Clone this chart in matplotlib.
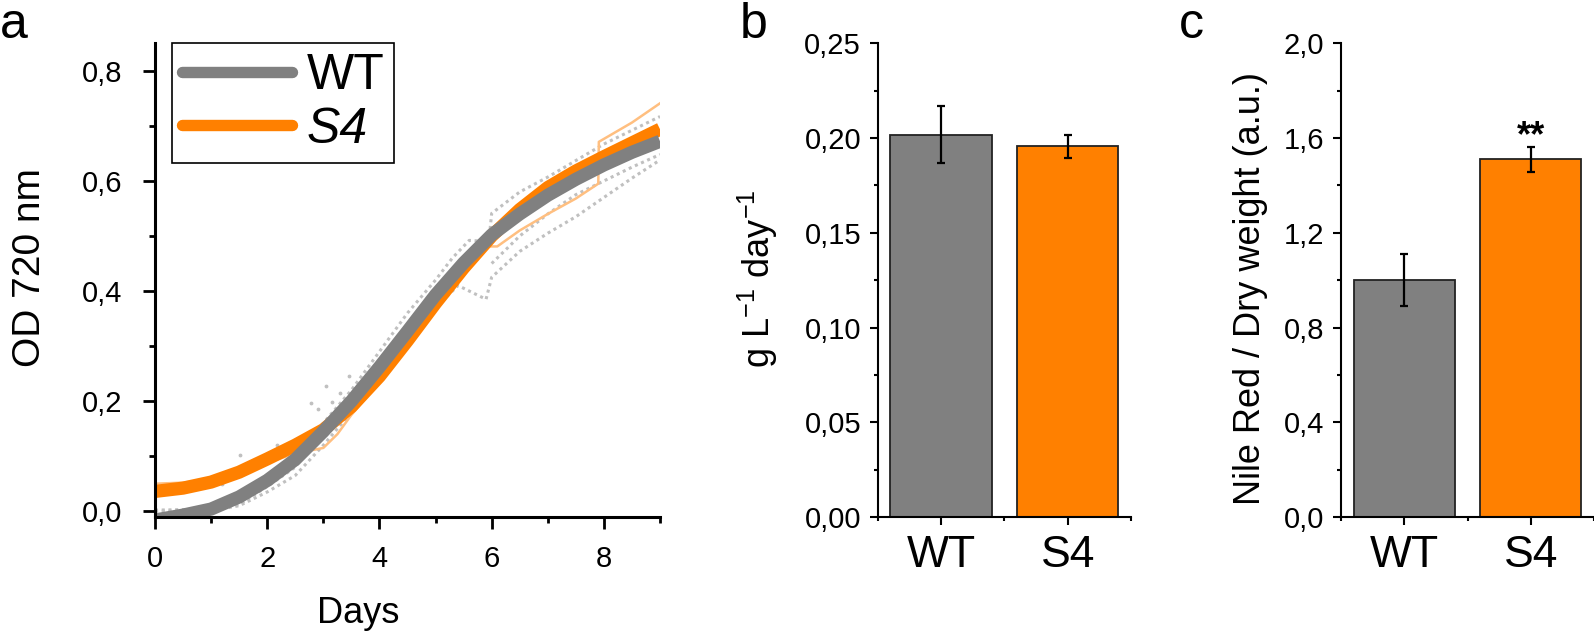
import matplotlib
matplotlib.use("Agg")
import matplotlib.pyplot as plt
from matplotlib.lines import Line2D
from matplotlib.ticker import FuncFormatter, MultipleLocator, FixedLocator

plt.rcParams['font.family'] = ['Liberation Sans', 'DejaVu Sans']
plt.rcParams['mathtext.fontset'] = 'custom'
plt.rcParams['mathtext.rm'] = 'Liberation Sans'
plt.rcParams['mathtext.it'] = 'Liberation Sans:italic'

GRAY = '#808080'
ORANGE = '#ff8000'
RAW_GRAY = '#c0c0c0'
LIGHT_ORANGE = '#ffbf80'

# --- panel a: growth curves ---
fit_days = [0, 0.5, 1, 1.5, 2, 2.5, 3, 3.5, 4, 4.5, 5, 5.5, 6, 6.5, 7, 7.5, 8, 8.5, 9]
wt_fit = [-0.016, -0.007, 0.004, 0.026, 0.056, 0.094, 0.145, 0.200, 0.262, 0.327,
          0.393, 0.451, 0.502, 0.540, 0.574, 0.603, 0.629, 0.652, 0.672]
s4_fit = [0.036, 0.042, 0.053, 0.071, 0.095, 0.120, 0.148, 0.190, 0.245, 0.310,
          0.378, 0.442, 0.500, 0.548, 0.588, 0.618, 0.644, 0.669, 0.694]

raw_u_days = [0, 0.5, 1, 1.5, 2, 2.5, 2.75, 3, 3.5, 4, 4.5, 5, 5.3, 5.6, 5.95, 6.0, 6.5, 7, 7.5, 8, 8.5, 9]
raw_u_od = [0.002, 0.003, 0.005, 0.012, 0.045, 0.080, 0.115, 0.160, 0.220, 0.290, 0.360, 0.420,
            0.460, 0.492, 0.490, 0.541, 0.580, 0.607, 0.637, 0.667, 0.692, 0.717]
raw_l_days = [0, 1, 1.5, 2, 2.5, 3, 3.5, 4, 4.5, 5, 5.4, 5.6, 5.9, 6.0, 6.5, 7, 7.5, 8, 8.5, 9]
raw_l_od = [0.000, 0.001, 0.010, 0.035, 0.065, 0.120, 0.180, 0.240, 0.310, 0.370, 0.410,
            0.400, 0.385, 0.425, 0.472, 0.505, 0.535, 0.570, 0.605, 0.638]
raw_m_days = [6.0, 6.5, 7, 7.5, 8, 8.5, 9]
raw_m_od = [0.450, 0.500, 0.540, 0.575, 0.600, 0.625, 0.648]
raw_s4_days = [0, 0.5, 1, 1.5, 2, 2.5, 3, 3.25, 3.5, 4, 4.5, 4.75, 5, 5.5, 5.8, 6.1, 6.5, 7, 7.5, 7.9, 7.91, 8.5, 9]
raw_s4_od = [0.050, 0.052, 0.058, 0.070, 0.088, 0.105, 0.115, 0.140, 0.175, 0.235, 0.310, 0.360,
             0.385, 0.450, 0.481, 0.481, 0.510, 0.540, 0.568, 0.595, 0.671, 0.706, 0.741]
stray_days = [1.51, 2.18, 2.78, 3.04, 3.16, 3.45, 0.85, 1.2, 2.9, 3.3]
stray_od = [0.102, 0.120, 0.197, 0.227, 0.199, 0.246, 0.045, 0.050, 0.185, 0.215]

# --- panels b and c: bar data ---
strains = ['WT', 'S4']
productivity = [0.2017, 0.1956]
productivity_err = [0.0150, 0.0060]
nile_red = [1.00, 1.511]
nile_red_err = [0.110, 0.053]
bar_colors = [GRAY, ORANGE]

fig = plt.figure(figsize=(15.94, 6.32), dpi=100)
W, H = 1594, 632


def axes_px(left, right, top, bottom):
    return fig.add_axes([left / W, 1 - bottom / H, (right - left) / W, (bottom - top) / H])


comma1 = FuncFormatter(lambda v, p: f'{v:.1f}'.replace('.', ','))
comma2 = FuncFormatter(lambda v, p: f'{v:.2f}'.replace('.', ','))

# ---------------- panel a ----------------
ax = axes_px(155, 660, 43.3, 517.3)
dots = (0, (1, 1.2))
for xs, ys in [(raw_u_days, raw_u_od), (raw_l_days, raw_l_od), (raw_m_days, raw_m_od)]:
    ax.plot(xs, ys, color=RAW_GRAY, lw=2.2, ls=dots, zorder=1)
ax.scatter(stray_days, stray_od, s=3, color=RAW_GRAY, zorder=1)
ax.plot(raw_s4_days, raw_s4_od, color=LIGHT_ORANGE, lw=1.8, zorder=2)
ax.plot(fit_days, s4_fit, color=ORANGE, lw=9.5, solid_capstyle='butt', zorder=3)
ax.plot(fit_days, wt_fit, color=GRAY, lw=9.5, solid_capstyle='butt', zorder=4)
ax.set_xlim(0, 9)
ax.set_ylim(-0.011, 0.85)
ax.set_yticks([0, 0.2, 0.4, 0.6, 0.8])
ax.yaxis.set_minor_locator(MultipleLocator(0.1))
ax.set_xticks([0, 2, 4, 6, 8])
ax.xaxis.set_minor_locator(MultipleLocator(1))
ax.yaxis.set_major_formatter(comma1)
ax.xaxis.set_major_formatter(FuncFormatter(lambda v, p: f'{v:.0f}'))
for s in ['top', 'right']:
    ax.spines[s].set_visible(False)
for s in ['left', 'bottom']:
    ax.spines[s].set_linewidth(2.2)
    ax.spines[s].set_zorder(5)
ax.tick_params(which='major', direction='out', length=8.6, width=2, labelsize=21)
ax.tick_params(which='minor', direction='out', length=4, width=2)
ax.tick_params(axis='y', which='major', pad=15)
ax.tick_params(axis='x', which='major', pad=11)
ax.set_xlabel('Days', fontsize=26)
ax.xaxis.set_label_coords(0.402, -0.165)
ax.set_ylabel('OD 720 nm', fontsize=28)
ax.yaxis.set_label_coords(-0.212, 0.526)

handles = [Line2D([], [], color=GRAY, lw=8.2, solid_capstyle='round'),
           Line2D([], [], color=ORANGE, lw=8.2, solid_capstyle='round')]
leg = ax.legend(handles, strains, loc='upper left', bbox_to_anchor=(0.033, 1.0),
                borderaxespad=0, fancybox=False, framealpha=1, edgecolor='black',
                fontsize=36, handlelength=2.2, borderpad=0.2, labelspacing=0.15,
                handletextpad=0.3)
leg.get_frame().set_linewidth(1.2)
leg.get_texts()[1].set_fontstyle('italic')


# ---------------- panels b and c ----------------
def bar_panel(left, right, vals, errs, ylim, major, minor, fmt, ylabel, lab_x, lab_y):
    bx = axes_px(left, right, 43.3, 517.0)
    pos = [1, 2]
    bx.bar(pos, vals, width=0.8, color=bar_colors, edgecolor='#222222', linewidth=1.3, zorder=2)
    bx.errorbar(pos, vals, yerr=errs, fmt='none', ecolor='black', elinewidth=1.6,
                capsize=3, capthick=1.6, zorder=3)
    bx.set_xlim(0.5, 2.5)
    bx.set_ylim(*ylim)
    bx.yaxis.set_major_locator(MultipleLocator(major))
    bx.yaxis.set_minor_locator(MultipleLocator(minor))
    bx.yaxis.set_major_formatter(fmt)
    bx.set_xticks(pos)
    bx.set_xticklabels(strains)
    bx.xaxis.set_minor_locator(FixedLocator([0.5, 1.5, 2.5]))
    for s in ['top', 'right']:
        bx.spines[s].set_visible(False)
    for s in ['left', 'bottom']:
        bx.spines[s].set_linewidth(1.5)
    bx.tick_params(which='major', direction='out', length=6, width=1.5)
    bx.tick_params(which='minor', direction='out', length=3, width=1.5)
    bx.tick_params(axis='y', which='major', labelsize=21, pad=6)
    bx.tick_params(axis='x', which='major', labelsize=32, pad=7)
    bx.set_ylabel(ylabel, fontsize=26)
    bx.yaxis.set_label_coords(lab_x, lab_y)
    return bx


bar_panel(877.7, 1131, productivity, productivity_err, (0, 0.25), 0.05, 0.025, comma2,
          'g L$^{-1}$ day$^{-1}$', -0.386, 0.504)
cx = bar_panel(1341, 1594, nile_red, nile_red_err, (0, 2.0), 0.4, 0.2, comma1,
               'Nile Red / Dry weight (a.u.)', -0.289, 0.483)
cx.text(2, nile_red[1] + nile_red_err[1] + 0.04, '**', ha='center', va='center',
        fontsize=26, fontweight='bold')

# panel letters
for letter, x in [('a', 0), ('b', 740), ('c', 1179)]:
    fig.text(x / W, 1 - 38.3 / H, letter, fontsize=36, va='baseline', ha='left')

fig.savefig('out.png', dpi=100)
